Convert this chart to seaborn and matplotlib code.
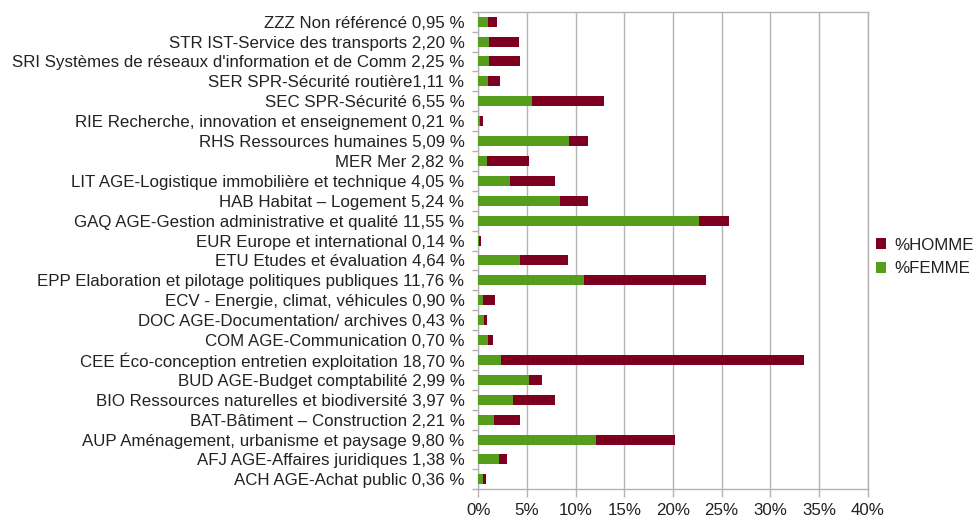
import matplotlib
matplotlib.use("Agg")
import matplotlib.pyplot as plt
import seaborn as sns
import pandas as pd
import numpy as np
from matplotlib.patches import Patch
from matplotlib.ticker import FuncFormatter, FixedLocator

categories = [
    "ZZZ Non référencé 0,95 %",
    "STR IST-Service des transports 2,20 %",
    "SRI Systèmes de réseaux d'information et de Comm 2,25 %",
    "SER SPR-Sécurité routière1,11 %",
    "SEC SPR-Sécurité 6,55 %",
    "RIE Recherche, innovation et enseignement 0,21 %",
    "RHS Ressources humaines 5,09 %",
    "MER Mer 2,82 %",
    "LIT AGE-Logistique immobilière et technique 4,05 %",
    "HAB Habitat – Logement 5,24 %",
    "GAQ AGE-Gestion administrative et qualité 11,55 %",
    "EUR Europe et international 0,14 %",
    "ETU Etudes et évaluation 4,64 %",
    "EPP Elaboration et pilotage politiques publiques 11,76 %",
    "ECV - Energie, climat, véhicules 0,90 %",
    "DOC AGE-Documentation/ archives 0,43 %",
    "COM AGE-Communication 0,70 %",
    "CEE Éco-conception entretien exploitation 18,70 %",
    "BUD AGE-Budget comptabilité 2,99 %",
    "BIO Ressources naturelles et biodiversité 3,97 %",
    "BAT-Bâtiment – Construction 2,21 %",
    "AUP Aménagement, urbanisme et paysage 9,80 %",
    "AFJ AGE-Affaires juridiques 1,38 %",
    "ACH AGE-Achat public 0,36 %",
]
femme = [1.03, 1.13, 1.13, 1.03, 5.54, 0.20, 9.33, 0.92, 3.28, 8.41, 22.67, 0.10,
         4.31, 10.87, 0.51, 0.62, 1.03, 2.36, 5.23, 3.59, 1.64, 12.10, 2.15, 0.51]
homme = [0.92, 3.07, 3.18, 1.23, 7.38, 0.31, 1.95, 4.31, 4.62, 2.87, 3.07, 0.21,
         4.92, 12.51, 1.23, 0.30, 0.51, 31.08, 1.33, 4.31, 2.67, 8.10, 0.82, 0.31]
x_ticks = [0, 5, 10, 15, 20, 25, 30, 35, 40]

GREEN = "#579d1c"
RED = "#7e0021"
GRID = "#b3b3b3"
FS = 12.2

sns.set_theme(style="white")
plt.rcParams["font.family"] = ["Liberation Sans", "DejaVu Sans"]

df = pd.DataFrame({"cat": categories, "femme": femme, "homme": homme})
df["total"] = df["femme"] + df["homme"]

fig = plt.figure(figsize=(9.73, 5.18), dpi=100)
ax = fig.add_axes([478.3 / 973, 1 - 489.3 / 518, (867.7 - 478.3) / 973, (489.3 - 11.7) / 518])

sns.barplot(data=df, x="total", y="cat", orient="h", color=RED, width=0.5,
            saturation=1, ax=ax, zorder=3, linewidth=0, edgecolor="none")
sns.barplot(data=df, x="femme", y="cat", orient="h", color=GREEN, width=0.5,
            saturation=1, ax=ax, zorder=3, linewidth=0, edgecolor="none")

n = len(categories)
ax.set_xlim(0, 40)
ax.set_ylim(n - 0.5, -0.5)
ax.set_xlabel("")
ax.set_ylabel("")
ax.set_xticks(x_ticks)
ax.xaxis.set_major_formatter(FuncFormatter(lambda v, p: f"{int(v)}%"))
ax.grid(axis="x", color=GRID, linewidth=1, zorder=0)
ax.grid(axis="y", visible=False)
for s in ax.spines.values():
    s.set_color(GRID)
    s.set_linewidth(1)
    s.set_visible(True)

ax.tick_params(axis="x", which="major", length=5.5, width=1, color=GRID,
               labelsize=FS, labelcolor="#222222", pad=4.5, bottom=True)
ax.tick_params(axis="y", which="major", length=0, labelsize=FS,
               labelcolor="#222222", pad=10)
ax.yaxis.set_minor_locator(FixedLocator(np.arange(-0.5, n + 0.5, 1)))
ax.tick_params(axis="y", which="minor", length=4.5, width=1, color=GRID, left=True)

handles = [Patch(facecolor=RED, edgecolor="none", label="%HOMME"),
           Patch(facecolor=GREEN, edgecolor="none", label="%FEMME")]
fig.legend(handles=handles, loc="center left", bbox_to_anchor=(876 / 973, 1 - 257 / 518),
           frameon=False, fontsize=FS, handlelength=0.6, handleheight=0.6,
           handletextpad=0.5, labelspacing=0.5, labelcolor="#222222", borderpad=0,
           borderaxespad=0)

fig.savefig("out.png", dpi=100)
